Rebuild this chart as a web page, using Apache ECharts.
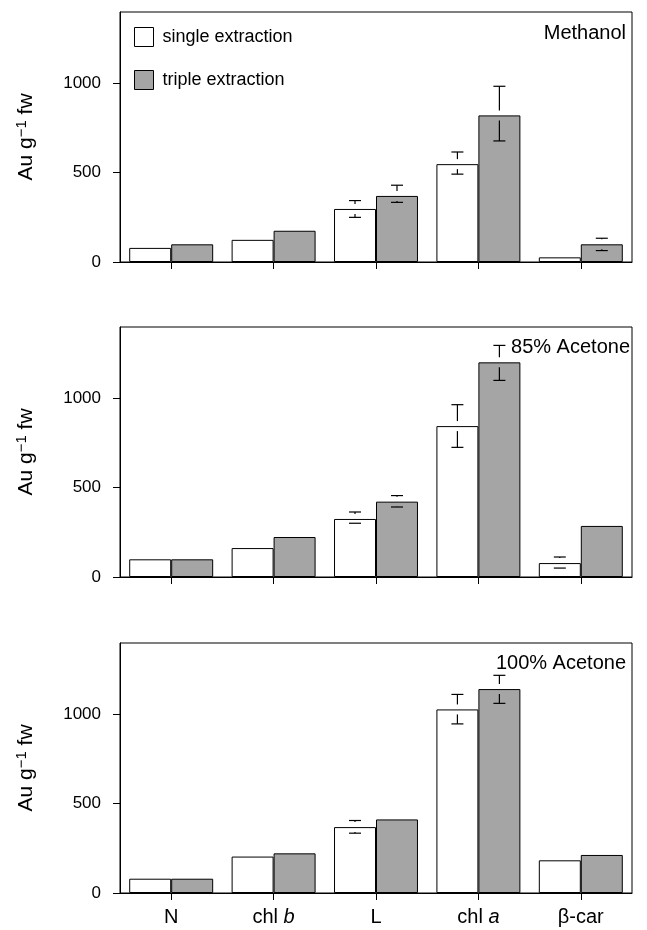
<!DOCTYPE html>
<html>
<head>
<meta charset="utf-8">
<script src="https://cdn.jsdelivr.net/npm/echarts@6/dist/echarts.min.js"></script>
<style>html,body{margin:0;padding:0;background:#fff;}#c{width:647px;height:930px;}</style>
</head>
<body>
<div id="c"></div>
<script>
// ---- data ----
const categories = ['N', 'chl b', 'L', 'chl a', 'β-car'];
const yTicks = [0, 500, 1000];
const seriesNames = ['single extraction', 'triple extraction'];
const panelTitles = ['Methanol', '85% Acetone', '100% Acetone'];

const methanolSingle = [79, 124, 297, 548, 26];
const methanolTriple = [99, 175, 370, 821, 99];
const methanolSingleLow = [null, null, 250, 492, null];
const methanolSingleHigh = [null, null, 344, 616, null];
const methanolTripleLow = [null, null, 334, 678, 64];
const methanolTripleHigh = [null, null, 430, 984, 133];

const acetone85Single = [99, 162, 325, 845, 78];
const acetone85Triple = [99, 224, 422, 1202, 286];
const acetone85SingleLow = [null, null, 301, 726, 50];
const acetone85SingleHigh = [null, null, 364, 965, 112];
const acetone85TripleLow = [null, null, 392, 1101, null];
const acetone85TripleHigh = [null, null, 456, 1297, null];

const acetone100Single = [80, 204, 369, 1028, 183];
const acetone100Triple = [80, 222, 412, 1142, 213];
const acetone100SingleLow = [null, null, 335, 947, null];
const acetone100SingleHigh = [null, null, 406, 1112, null];
const acetone100TripleLow = [null, null, null, 1062, null];
const acetone100TripleHigh = [null, null, null, 1219, null];

// ---- chart ----
const FONT = 'Liberation Sans, Arial, Helvetica, sans-serif';
const GRAY = '#a5a5a5';
const panels = [
  { single: methanolSingle, triple: methanolTriple, sLo: methanolSingleLow, sHi: methanolSingleHigh, tLo: methanolTripleLow, tHi: methanolTripleHigh },
  { single: acetone85Single, triple: acetone85Triple, sLo: acetone85SingleLow, sHi: acetone85SingleHigh, tLo: acetone85TripleLow, tHi: acetone85TripleHigh },
  { single: acetone100Single, triple: acetone100Triple, sLo: acetone100SingleLow, sHi: acetone100SingleHigh, tLo: acetone100TripleLow, tHi: acetone100TripleHigh }
];
const gridTops = [12, 327, 643];
const GRID_H = 250;
const BAR_GAP_CAT = 0.18;

const chart = echarts.init(document.getElementById('c'), null, { renderer: 'canvas' });

function errData(means, lo, hi) {
  const out = [];
  for (let i = 0; i < means.length; i++) {
    if (lo[i] != null || hi[i] != null) out.push([i, means[i], lo[i], hi[i]]);
  }
  return out;
}

function makeErrRender(side) {
  return function (params, api) {
    const idx = api.value(0);
    const mean = api.value(1);
    const lo = api.value(2);
    const hi = api.value(3);
    const band = api.size([1, 0])[0];
    const barW = band * (1 - BAR_GAP_CAT) / 2;
    const c = api.coord([idx, mean]);
    const x = c[0] + side * barW / 2;
    const yMean = c[1];
    const gap = 5;
    const half = 6;
    const children = [];
    const style = { stroke: '#000', lineWidth: 1.2 };
    if (hi != null && !isNaN(hi)) {
      const yh = api.coord([idx, hi])[1];
      children.push({ type: 'line', shape: { x1: x - half, y1: yh, x2: x + half, y2: yh }, style });
      if (yMean - gap > yh) children.push({ type: 'line', shape: { x1: x, y1: yh, x2: x, y2: yMean - gap }, style });
    }
    if (lo != null && !isNaN(lo)) {
      const yl = api.coord([idx, lo])[1];
      children.push({ type: 'line', shape: { x1: x - half, y1: yl, x2: x + half, y2: yl }, style });
      if (yMean + gap < yl) children.push({ type: 'line', shape: { x1: x, y1: yMean + gap, x2: x, y2: yl }, style });
    }
    return { type: 'group', children };
  };
}

const grids = [], xAxes = [], yAxes = [], series = [], graphics = [];
panels.forEach((p, k) => {
  grids.push({ left: 120, width: 512, top: gridTops[k], height: GRID_H, show: true, borderColor: '#000', borderWidth: 1, backgroundColor: 'transparent' });
  xAxes.push({
    type: 'category', gridIndex: k, data: categories,
    axisLine: { show: true, lineStyle: { color: '#000', width: 1 } },
    axisTick: { show: true, alignWithLabel: true, length: 7, lineStyle: { color: '#000', width: 1 } },
    axisLabel: {
      show: k === 2, interval: 0, margin: 14, color: '#000', fontFamily: FONT, fontSize: 20,
      formatter: function (v) {
        if (v === 'chl b') return 'chl {i|b}';
        if (v === 'chl a') return 'chl {i|a}';
        return v;
      },
      rich: { i: { fontStyle: 'italic', fontFamily: FONT, fontSize: 20, color: '#000' } }
    },
    splitLine: { show: false }
  });
  yAxes.push({
    type: 'value', gridIndex: k, min: 0, max: 1400, interval: 500,
    name: 'Au g{sup|−1} fw', nameLocation: 'middle', nameGap: 82, nameRotate: 90,
    nameTextStyle: { fontFamily: FONT, fontSize: 21, color: '#000', rich: { sup: { fontSize: 15, verticalAlign: 'top', padding: [0, 0, 9, 0], fontFamily: FONT, color: '#000' } } },
    axisLine: { show: true, lineStyle: { color: '#000', width: 1 } },
    axisTick: { show: true, length: 7, customValues: yTicks, lineStyle: { color: '#000', width: 1 } },
    axisLabel: { margin: 19, color: '#000', fontFamily: FONT, fontSize: 17, customValues: yTicks, formatter: function (v) { return String(v); } },
    splitLine: { show: false }
  });
  series.push({
    name: seriesNames[0], type: 'bar', xAxisIndex: k, yAxisIndex: k, data: p.single,
    barGap: '0%', barCategoryGap: (BAR_GAP_CAT * 100) + '%',
    itemStyle: { color: '#fff', borderColor: '#000', borderWidth: 1 }, emphasis: { disabled: true }, animation: false
  });
  series.push({
    name: seriesNames[1], type: 'bar', xAxisIndex: k, yAxisIndex: k, data: p.triple,
    barGap: '0%', barCategoryGap: (BAR_GAP_CAT * 100) + '%',
    itemStyle: { color: GRAY, borderColor: '#000', borderWidth: 1 }, emphasis: { disabled: true }, animation: false
  });
  series.push({
    type: 'custom', xAxisIndex: k, yAxisIndex: k, renderItem: makeErrRender(-1), z: 10,
    data: errData(p.single, p.sLo, p.sHi), animation: false, silent: true
  });
  series.push({
    type: 'custom', xAxisIndex: k, yAxisIndex: k, renderItem: makeErrRender(1), z: 10,
    data: errData(p.triple, p.tLo, p.tHi), animation: false, silent: true
  });
});

const titlePos = [[626, 33], [630, 347], [626, 663]];
panelTitles.forEach((t, k) => {
  graphics.push({ type: 'text', x: titlePos[k][0], y: titlePos[k][1], z: 100,
    style: { text: t, fill: '#000', font: '20px ' + FONT, textAlign: 'right', textVerticalAlign: 'middle' } });
});

chart.setOption({
  animation: false,
  backgroundColor: '#fff',
  textStyle: { fontFamily: FONT },
  grid: grids, xAxis: xAxes, yAxis: yAxes, series: series, graphic: graphics,
  legend: {
    orient: 'vertical', left: 134, top: 27, padding: 0, itemWidth: 19, itemHeight: 19, itemGap: 23, icon: 'rect',
    textStyle: { fontFamily: FONT, fontSize: 18, color: '#000', padding: [0, 0, 0, 4] },
    data: [
      { name: seriesNames[0], itemStyle: { color: '#fff', borderColor: '#000', borderWidth: 1 } },
      { name: seriesNames[1], itemStyle: { color: GRAY, borderColor: '#000', borderWidth: 1 } }
    ],
    selectedMode: false
  }
});
</script>
</body>
</html>
